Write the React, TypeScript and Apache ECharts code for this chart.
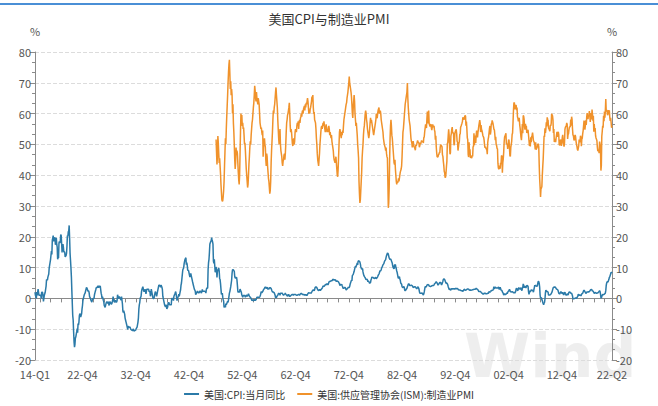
import React, { useEffect, useRef } from "react";
import * as echarts from "echarts";

// Monthly US CPI year-over-year change (%), Jan 1914 – May 2022
const CPI_YOY: number[] = [
  // 1914
  2.0, 1.0, 1.0, 0.0, 2.1, 1.0, 1.0, 3.0, 2.0, 1.0, 1.0, 1.0,
  1.0, 1.0, 0.0, 2.0, 2.0, 2.0, 1.0, -1.0, -1.0, 1.0, 1.0, 2.0,
  3.0, 4.0, 6.1, 6.0, 5.9, 6.9, 6.9, 7.9, 9.9, 10.8, 11.7, 12.6,
  12.5, 15.4, 14.3, 18.9, 19.6, 20.4, 18.5, 19.3, 19.8, 19.5, 17.4, 18.1,
  19.7, 17.5, 16.7, 12.7, 13.3, 13.1, 18.0, 18.5, 18.0, 18.5, 20.7, 20.4,
  17.9, 14.9, 17.1, 17.6, 16.6, 15.0, 15.2, 14.9, 13.5, 13.4, 13.9, 14.6,
  16.9, 20.4, 20.1, 21.6, 21.9, 23.7, 19.5, 14.7, 12.4, 9.9, 7.0, 2.6,
  -1.6, -5.6, -7.0, -10.8, -14.1, -15.8, -14.9, -12.8, -12.5, -11.6, -10.8, -9.8,
  -11.1, -8.2, -8.7, -7.7, -5.6, -5.0, -5.2, -6.1, -5.5, -5.0, -3.4, -2.3,
  -0.6, -0.6, 0.6, 1.2, 1.2, 1.8, 2.4, 3.0, 3.6, 3.6, 3.0, 2.4,
  // 1924
  2.4, 2.4, 1.8, 0.6, 0.6, 0.0, -0.6, -0.6, -1.2, -0.6, -0.6, 0.0,
  0.0, 0.0, 1.2, 1.8, 1.8, 2.9, 3.5, 3.5, 3.5, 3.5, 4.1, 3.5,
  3.5, 4.1, 3.5, 4.1, 2.9, 1.7, 1.1, 0.0, 0.6, 0.6, -0.6, -1.1,
  -2.3, -2.3, -2.9, -2.9, -1.7, -1.2, -1.2, -1.2, -1.7, -1.1, -1.1, -2.3,
  -1.2, -1.2, -1.2, -1.8, -1.7, -1.8, -1.2, -0.6, 0.6, -0.6, -0.6, -1.2,
  -1.2, -0.6, -1.2, -1.2, -1.2, -0.6, 1.2, 1.2, 0.0, 0.0, 0.6, 0.6,
  0.0, 0.0, -0.6, 0.6, -0.6, -1.8, -4.1, -4.6, -4.0, -4.6, -5.1, -6.4,
  -7.0, -7.6, -7.6, -8.8, -9.5, -10.1, -9.0, -8.9, -9.4, -9.3, -9.3, -9.3,
  -10.1, -10.2, -10.3, -10.3, -10.5, -9.9, -9.9, -10.6, -10.7, -10.4, -10.4, -10.3,
  -9.8, -9.9, -9.3, -9.3, -7.7, -6.3, -3.5, -2.1, -1.4, 0.0, 0.0, 0.7,
  // 1934
  2.2, 3.0, 3.0, 3.8, 3.1, 2.3, 2.3, 2.3, 3.0, 2.3, 1.5, 1.5,
  3.0, 3.0, 3.0, 3.0, 3.0, 2.2, 2.2, 2.2, 0.7, 1.5, 3.0, 3.0,
  1.5, 0.7, 0.0, 0.0, 0.0, 0.7, 1.5, 2.2, 2.2, 1.5, 0.7, 1.4,
  2.2, 2.2, 3.6, 4.3, 4.3, 4.3, 4.3, 3.6, 4.3, 4.3, 3.6, 2.9,
  0.7, 0.0, -0.7, -0.7, -2.1, -2.1, -2.8, -2.8, -2.1, -3.4, -3.5, -2.8,
  -1.4, -1.4, -1.4, -2.1, -2.1, -2.1, -2.1, -2.1, 0.0, 0.0, 0.0, 0.0,
  -0.7, 0.7, 0.7, 1.4, 1.4, 2.2, 1.4, 1.4, -0.7, 0.0, 0.0, 0.7,
  1.4, 0.7, 1.4, 2.1, 2.8, 4.3, 5.0, 6.4, 7.9, 9.3, 9.3, 9.9,
  11.3, 12.0, 12.7, 12.6, 13.2, 10.9, 11.6, 10.8, 9.2, 9.1, 9.0, 9.0,
  7.6, 6.9, 7.5, 8.1, 7.4, 7.4, 6.1, 5.4, 5.4, 4.2, 3.6, 3.0,
  // 1944
  3.0, 2.4, 1.2, 1.2, 1.8, 1.8, 2.4, 2.4, 1.8, 1.8, 1.8, 2.3,
  2.3, 2.3, 2.3, 1.7, 2.3, 2.9, 2.3, 2.3, 2.3, 2.3, 2.3, 2.2,
  2.2, 1.7, 2.8, 3.4, 3.3, 3.3, 9.4, 11.6, 12.7, 14.9, 17.7, 18.1,
  18.1, 18.8, 19.7, 19.0, 18.4, 17.6, 12.1, 11.4, 12.7, 10.6, 8.5, 8.8,
  10.2, 9.3, 6.8, 8.7, 9.1, 9.5, 9.9, 8.9, 6.5, 6.1, 4.8, 3.0,
  1.3, 1.3, 1.7, 0.4, -0.4, -0.9, -2.9, -2.9, -2.4, -2.9, -1.7, -2.1,
  -2.1, -1.3, -0.9, -1.3, -0.4, -0.4, 1.7, 2.2, 2.2, 3.8, 3.8, 5.9,
  8.1, 9.3, 9.3, 9.3, 9.3, 8.8, 7.1, 6.6, 6.6, 6.6, 6.9, 6.0,
  4.3, 2.3, 1.9, 2.3, 1.9, 2.3, 3.0, 3.1, 2.3, 1.9, 1.1, 0.8,
  0.4, 0.8, 1.1, 0.8, 1.1, 1.1, 0.4, 0.7, 0.7, 1.1, 0.7, 0.7,
  // 1954
  1.1, 1.5, 1.1, 0.7, 0.7, 0.4, 0.4, 0.0, -0.4, -0.7, -0.4, -0.7,
  -0.7, -0.7, -0.7, -0.4, -0.7, -0.7, -0.4, -0.4, 0.4, 0.4, 0.4, 0.4,
  0.4, 0.4, 0.4, 0.7, 1.1, 1.8, 2.2, 1.8, 1.8, 2.2, 2.2, 2.9,
  2.9, 3.2, 3.6, 3.6, 3.6, 3.2, 3.2, 3.6, 3.2, 2.9, 3.2, 2.9,
  3.6, 3.2, 3.5, 3.5, 3.2, 2.8, 2.4, 2.1, 2.1, 2.1, 2.1, 1.8,
  1.4, 1.0, 0.3, 0.3, 0.3, 0.7, 0.7, 1.0, 1.4, 1.7, 1.4, 1.7,
  1.0, 1.7, 1.7, 1.7, 1.7, 1.7, 1.4, 1.4, 1.0, 1.3, 1.3, 1.4,
  1.7, 1.4, 1.4, 1.0, 1.0, 0.7, 1.3, 1.0, 1.3, 0.7, 0.7, 0.7,
  0.7, 1.0, 1.0, 1.3, 1.3, 1.3, 1.0, 1.3, 1.3, 1.3, 1.3, 1.3,
  1.3, 1.0, 1.0, 1.0, 1.0, 1.3, 1.3, 1.3, 1.0, 1.3, 1.3, 1.6,
  // 1964
  1.6, 1.6, 1.3, 1.3, 1.3, 1.3, 1.3, 1.0, 1.3, 1.0, 1.3, 1.0,
  1.0, 1.0, 1.3, 1.6, 1.6, 1.9, 1.6, 1.9, 1.6, 1.9, 1.6, 1.9,
  1.9, 2.5, 2.5, 2.8, 2.8, 2.5, 2.8, 3.5, 3.5, 3.8, 3.8, 3.5,
  3.5, 2.8, 2.8, 2.5, 2.8, 2.8, 2.8, 2.5, 2.8, 2.8, 3.1, 3.0,
  3.6, 4.0, 3.9, 3.9, 3.9, 4.2, 4.5, 4.5, 4.4, 4.7, 4.7, 4.7,
  4.4, 4.7, 5.2, 5.5, 5.5, 5.5, 5.4, 5.7, 5.7, 5.7, 5.9, 6.2,
  6.2, 6.1, 5.8, 6.1, 6.1, 6.0, 6.0, 5.4, 5.7, 5.7, 5.6, 5.6,
  5.3, 5.0, 4.7, 4.2, 4.4, 4.6, 4.4, 4.6, 4.1, 3.8, 3.3, 3.3,
  3.3, 3.5, 3.5, 3.5, 3.2, 2.7, 2.9, 2.9, 3.2, 3.4, 3.7, 3.4,
  3.6, 3.9, 4.6, 5.1, 5.5, 5.9, 5.7, 7.4, 7.4, 7.8, 8.3, 8.7,
  // 1974
  9.4, 10.0, 10.4, 10.1, 10.7, 10.9, 11.5, 10.9, 12.1, 12.1, 12.2, 12.3,
  11.8, 11.2, 10.3, 10.2, 9.5, 9.4, 9.7, 8.6, 7.9, 7.4, 7.4, 6.9,
  6.7, 6.3, 6.1, 6.0, 6.2, 6.0, 5.4, 5.7, 5.5, 5.5, 4.9, 4.9,
  5.2, 6.0, 6.4, 7.0, 6.7, 6.9, 6.8, 6.6, 6.6, 6.4, 6.7, 6.7,
  6.8, 6.4, 6.6, 6.5, 7.0, 7.4, 7.7, 7.9, 8.3, 8.9, 8.9, 9.0,
  9.3, 9.9, 10.1, 10.5, 10.9, 10.9, 11.3, 11.8, 12.2, 12.1, 12.6, 13.3,
  13.9, 14.2, 14.8, 14.7, 14.4, 14.4, 13.1, 12.9, 12.6, 12.8, 12.6, 12.5,
  11.8, 11.4, 10.5, 10.0, 9.8, 9.6, 10.8, 10.8, 11.0, 10.1, 9.6, 8.9,
  8.4, 7.6, 6.8, 6.5, 6.7, 7.1, 6.4, 5.9, 5.0, 5.1, 4.6, 3.8,
  3.7, 3.5, 3.6, 3.9, 3.5, 2.6, 2.5, 2.6, 2.9, 2.9, 3.3, 3.8,
  // 1984
  4.2, 4.6, 4.8, 4.6, 4.2, 4.2, 4.2, 4.3, 4.3, 4.3, 4.1, 3.9,
  3.5, 3.5, 3.7, 3.7, 3.8, 3.8, 3.6, 3.3, 3.1, 3.2, 3.5, 3.8,
  3.9, 3.1, 2.3, 1.6, 1.5, 1.8, 1.6, 1.6, 1.8, 1.5, 1.3, 1.1,
  1.5, 2.1, 3.0, 3.8, 3.9, 3.7, 3.9, 4.3, 4.4, 4.5, 4.5, 4.4,
  4.0, 3.9, 3.9, 3.9, 3.9, 4.0, 4.1, 4.0, 4.2, 4.2, 4.2, 4.4,
  4.7, 4.8, 5.0, 5.1, 5.4, 5.2, 5.0, 4.7, 4.3, 4.5, 4.7, 4.6,
  5.2, 5.3, 5.2, 4.7, 4.4, 4.7, 4.8, 5.6, 6.2, 6.3, 6.3, 6.1,
  5.7, 5.3, 4.9, 4.9, 5.0, 4.7, 4.4, 3.8, 3.4, 2.9, 3.0, 3.1,
  2.6, 2.8, 3.2, 3.2, 3.0, 3.1, 3.2, 3.1, 3.0, 3.2, 3.0, 2.9,
  3.3, 3.2, 3.1, 3.2, 3.2, 3.0, 2.8, 2.8, 2.7, 2.8, 2.7, 2.7,
  // 1994
  2.5, 2.5, 2.5, 2.4, 2.3, 2.5, 2.8, 2.9, 3.0, 2.6, 2.7, 2.7,
  2.8, 2.9, 2.9, 3.1, 3.2, 3.0, 2.8, 2.6, 2.5, 2.8, 2.6, 2.5,
  2.7, 2.7, 2.8, 2.9, 2.9, 2.8, 3.0, 2.9, 3.0, 3.0, 3.3, 3.3,
  3.0, 3.0, 2.8, 2.5, 2.2, 2.3, 2.2, 2.2, 2.2, 2.1, 1.8, 1.7,
  1.6, 1.4, 1.4, 1.4, 1.7, 1.7, 1.7, 1.6, 1.5, 1.5, 1.5, 1.6,
  1.7, 1.6, 1.7, 2.3, 2.1, 2.0, 2.1, 2.3, 2.6, 2.6, 2.6, 2.7,
  2.7, 3.2, 3.8, 3.1, 3.2, 3.7, 3.7, 3.4, 3.5, 3.4, 3.4, 3.4,
  3.7, 3.5, 2.9, 3.3, 3.6, 3.2, 2.7, 2.7, 2.6, 2.1, 1.9, 1.6,
  1.1, 1.1, 1.5, 1.6, 1.2, 1.1, 1.5, 1.8, 1.5, 2.0, 2.2, 2.4,
  2.6, 3.0, 3.0, 2.2, 2.1, 2.1, 2.1, 2.2, 2.3, 2.0, 1.8, 1.9,
  // 2004
  1.9, 1.7, 1.7, 2.3, 3.1, 3.3, 3.0, 2.7, 2.5, 3.2, 3.5, 3.3,
  3.0, 3.0, 3.1, 3.5, 2.8, 2.5, 3.2, 3.6, 4.7, 4.3, 3.5, 3.4,
  4.0, 3.6, 3.4, 3.5, 4.2, 4.3, 4.1, 3.8, 2.1, 1.3, 2.0, 2.5,
  2.1, 2.4, 2.8, 2.6, 2.7, 2.7, 2.4, 2.0, 2.8, 3.5, 4.3, 4.1,
  4.3, 4.0, 4.0, 3.9, 4.2, 5.0, 5.6, 5.4, 4.9, 3.7, 1.1, 0.1,
  0.0, 0.2, -0.4, -0.7, -1.3, -1.4, -2.1, -1.5, -1.3, -0.2, 1.8, 2.7,
  2.6, 2.1, 2.3, 2.2, 2.0, 1.1, 1.2, 1.1, 1.1, 1.2, 1.1, 1.5,
  1.6, 2.1, 2.7, 3.2, 3.6, 3.6, 3.6, 3.8, 3.9, 3.5, 3.4, 3.0,
  2.9, 2.9, 2.7, 2.3, 1.7, 1.7, 1.4, 1.7, 2.0, 2.2, 1.8, 1.7,
  1.6, 2.0, 1.5, 1.1, 1.4, 1.8, 2.0, 1.5, 1.2, 1.0, 1.2, 1.5,
  // 2014
  1.6, 1.1, 1.5, 2.0, 2.1, 2.1, 2.0, 1.7, 1.7, 1.7, 1.3, 0.8,
  -0.1, 0.0, -0.1, -0.2, 0.0, 0.1, 0.2, 0.2, 0.0, 0.2, 0.5, 0.7,
  1.4, 1.0, 0.9, 1.1, 1.0, 1.0, 0.8, 1.1, 1.5, 1.6, 1.7, 2.1,
  2.5, 2.7, 2.4, 2.2, 1.9, 1.6, 1.7, 1.9, 2.2, 2.0, 2.2, 2.1,
  2.1, 2.2, 2.4, 2.5, 2.8, 2.9, 2.9, 2.7, 2.3, 2.5, 2.2, 1.9,
  1.6, 1.5, 1.9, 2.0, 1.8, 1.6, 1.8, 1.7, 1.7, 1.8, 2.1, 2.3,
  2.5, 2.3, 1.5, 0.3, 0.1, 0.6, 1.0, 1.3, 1.4, 1.2, 1.2, 1.4,
  1.4, 1.7, 2.6, 4.2, 5.0, 5.4, 5.4, 5.3, 5.4, 6.2, 6.8, 7.0,
  7.5, 7.9, 8.5, 8.3, 8.6,
];

// Monthly ISM manufacturing PMI, Jan 1948 – May 2022
const PMI_START = "1948-01";
const ISM_PMI: number[] = [
  // 1948
  51.6, 47.5, 43.5, 46.0, 52.7, 50.5, 47.0, 44.0, 45.5, 43.0, 40.5, 37.0,
  34.5, 32.0, 31.5, 31.7, 33.0, 35.0, 38.0, 43.0, 47.5, 52.0, 50.0, 55.0,
  59.0, 62.5, 66.0, 70.0, 73.5, 76.0, 77.5, 73.0, 68.0, 70.5, 66.0, 68.0,
  66.0, 60.0, 63.0, 57.0, 54.0, 50.0, 45.0, 42.0, 44.0, 49.0, 46.5, 48.0,
  47.0, 44.0, 41.0, 38.5, 37.0, 40.0, 47.0, 54.0, 60.0, 57.0, 59.5, 56.0,
  57.0, 55.0, 55.5, 53.0, 50.0, 50.5, 48.0, 45.0, 42.0, 40.0, 38.0, 36.0,
  37.0, 40.0, 43.5, 46.0, 49.0, 51.0, 50.0, 53.0, 55.0, 57.0, 58.0, 60.0,
  62.0, 63.5, 66.0, 69.0, 67.5, 65.0, 64.0, 67.0, 65.0, 64.0, 63.0, 65.0,
  65.0, 63.0, 60.0, 57.0, 56.0, 55.0, 55.5, 54.0, 53.0, 54.5, 46.0, 50.0,
  51.0, 52.0, 50.0, 49.0, 45.0, 43.0, 47.0, 46.0, 43.0, 41.0, 39.0, 38.0,
  // 1958
  36.0, 34.0, 35.0, 38.0, 44.0, 48.0, 51.0, 54.0, 58.0, 61.0, 60.0, 62.0,
  63.0, 65.0, 67.0, 68.5, 66.0, 64.0, 62.0, 58.0, 55.0, 52.0, 50.0, 53.0,
  55.0, 50.0, 48.0, 47.0, 46.0, 44.0, 43.0, 44.5, 45.0, 46.5, 47.0, 45.0,
  47.0, 50.0, 54.0, 57.0, 58.0, 59.5, 60.0, 61.0, 62.0, 63.5, 60.0, 56.0,
  54.0, 55.0, 54.0, 52.0, 50.0, 49.5, 51.0, 52.0, 50.0, 51.0, 54.0, 55.0,
  55.0, 54.0, 56.0, 57.0, 56.0, 57.5, 55.0, 57.0, 58.0, 57.0, 58.5, 59.0,
  60.0, 59.0, 60.5, 61.0, 60.0, 61.5, 62.0, 62.5, 61.0, 63.0, 62.0, 63.5,
  63.0, 64.0, 65.0, 64.0, 62.0, 60.0, 61.0, 60.0, 61.5, 62.0, 63.0, 64.0,
  65.5, 64.0, 66.0, 62.0, 60.0, 60.5, 58.0, 58.0, 57.0, 55.0, 52.0, 50.0,
  47.0, 45.0, 44.0, 43.0, 45.0, 47.0, 50.0, 52.0, 54.0, 55.5, 56.0, 55.0,
  // 1968
  55.0, 57.0, 56.0, 57.5, 56.0, 55.0, 54.0, 55.5, 56.5, 55.0, 54.0, 55.0,
  54.0, 55.5, 56.0, 55.0, 53.0, 54.0, 53.0, 52.0, 53.0, 51.0, 50.0, 49.0,
  48.0, 46.0, 45.0, 44.5, 44.0, 45.0, 46.0, 44.0, 42.0, 40.0, 39.5, 42.0,
  46.0, 50.0, 54.0, 55.0, 54.0, 53.0, 52.0, 54.0, 53.0, 54.5, 53.7, 56.0,
  58.0, 59.0, 60.0, 61.0, 62.0, 63.0, 63.5, 65.0, 66.0, 67.0, 68.5, 70.0,
  72.0, 70.0, 69.0, 68.0, 67.0, 65.5, 63.0, 60.0, 58.6, 62.0, 64.0, 66.0,
  64.0, 60.0, 58.0, 56.0, 57.0, 55.0, 53.0, 50.0, 48.0, 45.6, 38.0, 34.0,
  31.0, 32.0, 35.0, 38.0, 41.0, 45.6, 48.0, 50.0, 53.0, 55.0, 56.0, 58.0,
  60.0, 61.0, 60.0, 58.0, 57.0, 55.0, 54.0, 53.0, 52.0, 53.0, 55.0, 57.0,
  58.6, 57.0, 58.0, 57.0, 56.0, 55.0, 54.0, 53.0, 54.0, 55.0, 56.0, 57.0,
  // 1978
  58.0, 60.0, 59.0, 58.5, 60.0, 61.0, 61.0, 62.0, 60.0, 60.0, 61.0, 60.0,
  58.0, 57.0, 56.0, 55.0, 54.0, 52.0, 51.0, 50.0, 50.0, 49.0, 48.0, 49.0,
  47.0, 46.0, 45.6, 38.0, 29.4, 31.0, 36.0, 45.0, 52.0, 56.0, 58.0, 56.0,
  53.0, 52.0, 50.0, 48.0, 46.0, 44.0, 43.5, 45.0, 42.0, 40.0, 38.0, 37.0,
  38.0, 37.5, 38.0, 39.0, 38.0, 39.0, 40.0, 41.0, 41.0, 42.0, 43.0, 46.0,
  50.0, 54.0, 55.0, 57.0, 59.0, 61.0, 63.0, 64.0, 65.0, 66.0, 67.0, 69.9,
  65.0, 62.0, 60.0, 58.0, 57.0, 56.0, 54.0, 52.0, 51.0, 50.5, 49.0, 50.0,
  51.1, 50.1, 49.3, 49.0, 48.6, 48.1, 49.8, 49.6, 50.0, 50.0, 51.3, 50.8,
  50.7, 50.4, 49.1, 49.6, 50.6, 50.1, 50.2, 51.3, 50.9, 51.1, 50.8, 50.5,
  52.2, 52.4, 54.1, 54.0, 56.5, 55.7, 55.3, 58.3, 60.7, 58.4, 56.8, 61.0,
  // 1988
  56.8, 56.3, 55.8, 56.1, 56.6, 55.4, 54.6, 55.6, 56.5, 56.5, 55.6, 56.0,
  54.7, 54.1, 51.5, 52.8, 49.3, 47.3, 45.9, 46.0, 46.0, 46.6, 46.8, 47.4,
  47.2, 49.1, 49.9, 50.0, 49.5, 49.2, 46.6, 46.1, 44.5, 43.2, 41.3, 40.8,
  39.2, 39.4, 40.7, 42.8, 44.5, 50.3, 50.6, 52.9, 54.9, 53.1, 49.5, 46.8,
  47.3, 52.7, 53.5, 54.9, 55.6, 53.6, 53.9, 53.4, 49.7, 50.3, 53.6, 54.2,
  54.2, 54.9, 53.5, 51.0, 50.8, 48.0, 49.1, 50.3, 50.9, 53.2, 53.4, 55.6,
  56.0, 56.1, 56.9, 57.4, 58.8, 58.2, 58.5, 58.0, 59.0, 59.4, 59.2, 56.1,
  57.4, 55.1, 52.1, 51.5, 46.7, 45.9, 50.7, 47.3, 48.4, 45.6, 45.6, 46.2,
  45.5, 46.5, 46.1, 49.2, 49.4, 53.6, 49.7, 52.2, 52.9, 50.5, 52.9, 54.5,
  53.8, 52.3, 53.8, 53.7, 56.1, 56.1, 57.9, 56.9, 54.0, 56.3, 54.9, 54.5,
  // 1998
  53.8, 52.9, 52.9, 52.2, 51.2, 49.5, 48.9, 49.3, 48.7, 48.7, 48.2, 46.8,
  50.6, 51.7, 52.4, 52.3, 55.2, 56.0, 53.2, 54.3, 56.8, 56.6, 57.8, 57.8,
  56.7, 55.8, 54.9, 54.7, 53.2, 51.4, 52.5, 49.9, 49.7, 48.7, 48.5, 43.9,
  42.3, 41.9, 43.1, 42.7, 42.1, 44.0, 43.6, 46.4, 46.2, 40.8, 44.1, 45.3,
  47.5, 50.7, 52.4, 52.4, 53.1, 53.6, 50.2, 50.3, 50.1, 48.5, 48.5, 51.6,
  51.3, 48.8, 46.3, 46.1, 49.0, 49.0, 51.0, 53.2, 53.7, 57.0, 61.0, 63.4,
  63.6, 61.4, 62.5, 62.4, 62.8, 61.1, 62.0, 59.0, 58.5, 57.5, 57.8, 58.6,
  56.4, 55.3, 55.2, 52.3, 51.4, 53.8, 56.6, 53.6, 59.4, 59.1, 58.1, 55.6,
  54.8, 56.7, 55.2, 56.0, 53.7, 53.8, 54.7, 54.5, 52.9, 51.2, 49.5, 51.4,
  49.3, 52.3, 50.7, 52.6, 52.9, 53.8, 52.6, 51.2, 51.0, 50.4, 50.0, 48.4,
  // 2008
  50.7, 48.3, 48.6, 48.6, 49.3, 50.2, 50.0, 49.2, 43.4, 38.9, 36.2, 32.9,
  35.6, 35.8, 36.3, 40.1, 42.8, 45.3, 49.1, 52.8, 52.4, 55.2, 53.7, 54.9,
  57.2, 55.8, 58.8, 58.1, 57.8, 55.3, 55.1, 55.2, 54.3, 56.2, 56.0, 56.8,
  59.9, 59.8, 59.3, 58.0, 53.7, 55.0, 50.8, 50.9, 51.8, 50.7, 52.0, 53.0,
  54.1, 52.4, 53.4, 54.1, 53.2, 49.9, 49.9, 49.8, 51.6, 51.7, 49.5, 50.4,
  52.3, 53.1, 51.5, 50.0, 49.3, 50.5, 54.9, 55.6, 55.8, 56.0, 57.0, 56.5,
  51.8, 53.2, 53.4, 54.7, 55.6, 55.7, 55.8, 58.1, 56.1, 59.0, 58.1, 55.1,
  53.1, 52.8, 51.7, 51.3, 52.6, 53.1, 52.4, 51.0, 50.0, 49.4, 48.4, 48.0,
  48.0, 49.5, 51.6, 50.7, 51.0, 52.8, 52.3, 49.4, 51.7, 52.0, 53.5, 54.5,
  56.0, 57.7, 57.2, 54.8, 54.9, 57.8, 56.3, 58.8, 60.2, 58.7, 58.2, 59.7,
  // 2018
  59.1, 60.8, 59.3, 57.3, 58.7, 60.2, 58.1, 61.3, 59.8, 57.7, 59.3, 54.1,
  56.6, 54.2, 55.3, 52.8, 52.1, 51.7, 51.2, 49.1, 47.8, 48.3, 48.1, 47.2,
  50.9, 50.1, 49.1, 41.5, 43.1, 52.6, 54.2, 56.0, 55.4, 59.3, 57.5, 60.7,
  58.7, 60.8, 64.7, 60.7, 61.2, 60.6, 59.5, 59.9, 61.1, 60.8, 61.1, 58.8,
  57.6, 58.6, 57.1, 55.4, 56.1,
];

// Axis label months and their captions
const LABEL_MONTHS = [
  "1914-01", "1922-12", "1932-12", "1942-12", "1952-12", "1962-12",
  "1972-12", "1982-12", "1992-12", "2002-12", "2012-12", "2022-05",
];
const TICK_LABELS = [
  "14-Q1", "22-Q4", "32-Q4", "42-Q4", "52-Q4", "62-Q4",
  "72-Q4", "82-Q4", "92-Q4", "02-Q4", "12-Q4", "22-Q2",
];

const SERIES_NAMES = ["美国:CPI:当月同比", "美国:供应管理协会(ISM):制造业PMI"];
const TITLE = "美国CPI与制造业PMI";

const FONT = '"Noto Sans CJK SC", "Noto Sans", sans-serif';

function buildMonths(count: number): string[] {
  const out: string[] = [];
  for (let i = 0; i < count; i++) {
    const y = 1914 + Math.floor(i / 12);
    const m = (i % 12) + 1;
    out.push(`${y}-${m < 10 ? "0" + m : m}`);
  }
  return out;
}

export default function App() {
  const ref = useRef<HTMLDivElement>(null);

  useEffect(() => {
    if (!ref.current) return;
    const chart = echarts.init(ref.current, undefined, { renderer: "svg" });

    const months = buildMonths(CPI_YOY.length);
    const pmiOffset = months.indexOf(PMI_START);
    const pmiData: (number | null)[] = months.map((_, i) =>
      i < pmiOffset ? null : ISM_PMI[i - pmiOffset] ?? null
    );
    const labelIndex = new Map<string, string>();
    LABEL_MONTHS.forEach((m, i) => labelIndex.set(m, TICK_LABELS[i]));
    const firstQ4 = months.indexOf("1922-12");

    const yAxisCommon = {
      type: "value" as const,
      min: -20,
      max: 80,
      interval: 10,
      name: "%",
      nameGap: 16,
      nameTextStyle: { color: "#555", fontSize: 11, fontFamily: FONT, align: "center" as const },
      axisLine: { show: true, lineStyle: { color: "#8a8a8a", width: 1 } },
      axisTick: { show: true, length: 5, lineStyle: { color: "#8a8a8a" } },
      minorTick: { show: true, splitNumber: 3, length: 3, lineStyle: { color: "#8a8a8a" } },
      axisLabel: { color: "#555", fontSize: 11, fontFamily: FONT, margin: 4 },
    };

    chart.setOption({
      animation: false,
      backgroundColor: "#ffffff",
      title: {
        text: TITLE,
        left: "center",
        top: 7,
        textStyle: { fontSize: 13, fontWeight: "normal", color: "#333", fontFamily: FONT },
      },
      graphic: [
        {
          type: "rect",
          left: 0,
          top: 3,
          shape: { width: 658, height: 2 },
          style: { fill: "#4a8fd6" },
          silent: true,
        },
        {
          type: "text",
          left: 464,
          top: 326,
          z: -1,
          style: {
            text: "Wind",
            fill: "rgba(200,200,200,0.3)",
            font: 'bold 60px "DejaVu Sans", sans-serif',
          },
          silent: true,
        },
      ],
      legend: {
        bottom: 2,
        left: "center",
        icon: "rect",
        itemWidth: 15,
        itemHeight: 2,
        itemGap: 12,
        textStyle: { fontSize: 10, color: "#333", fontFamily: FONT },
        data: SERIES_NAMES,
      },
      grid: { left: 35, right: 46, top: 52, bottom: 46, containLabel: false },
      xAxis: {
        type: "category",
        data: months,
        boundaryGap: false,
        axisLine: { lineStyle: { color: "#8a8a8a" } },
        axisTick: {
          show: true,
          length: 4,
          lineStyle: { color: "#8a8a8a" },
          interval: (i: number) => i === 0 || Math.abs(i - firstQ4) % 24 === 0,
        },
        axisLabel: {
          color: "#555",
          fontSize: 11,
          fontFamily: FONT,
          margin: 8,
          interval: (_i: number, v: string) => labelIndex.has(v),
          formatter: (v: string) => labelIndex.get(v) ?? "",
        },
        splitLine: { show: false },
      },
      yAxis: [
        {
          ...yAxisCommon,
          position: "left",
          splitLine: { show: true, lineStyle: { color: "#dcdcdc", type: "dashed" } },
        },
        {
          ...yAxisCommon,
          position: "right",
          splitLine: { show: false },
        },
      ],
      series: [
        {
          name: SERIES_NAMES[0],
          type: "line",
          data: CPI_YOY,
          yAxisIndex: 0,
          showSymbol: false,
          symbol: "none",
          lineStyle: { color: "#2b7aa8", width: 1.5 },
          itemStyle: { color: "#2b7aa8" },
          z: 3,
        },
        {
          name: SERIES_NAMES[1],
          type: "line",
          data: pmiData,
          yAxisIndex: 1,
          showSymbol: false,
          symbol: "none",
          connectNulls: false,
          lineStyle: { color: "#f0922b", width: 1.5 },
          itemStyle: { color: "#f0922b" },
          z: 3,
        },
      ],
    });

    return () => chart.dispose();
  }, []);

  return (
    <div
      ref={ref}
      style={{ position: "fixed", left: 0, top: 0, width: 658, height: 406 }}
    />
  );
}
